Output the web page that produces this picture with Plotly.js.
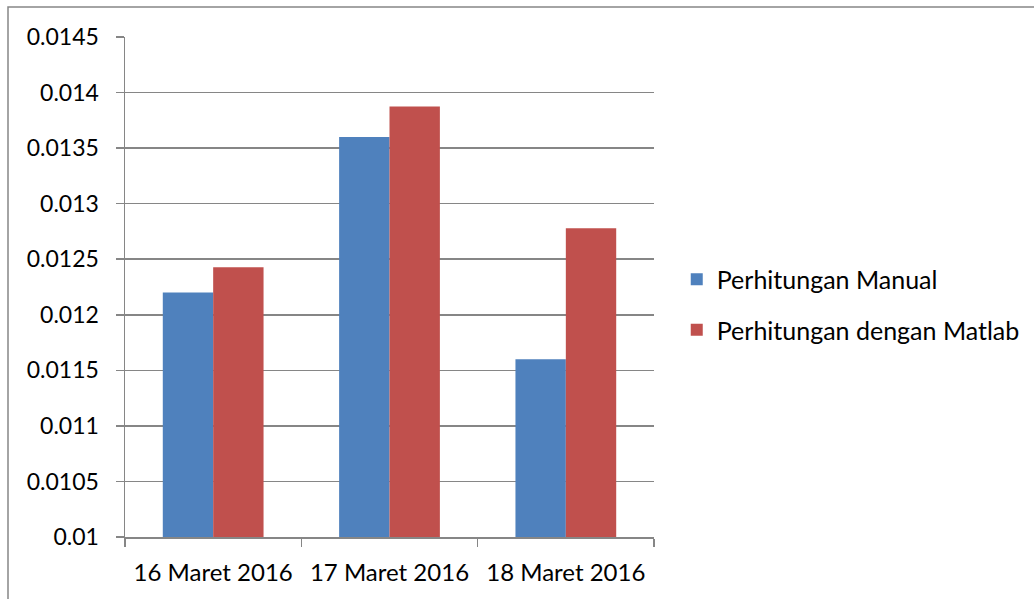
<!DOCTYPE html>
<html>
<head>
<meta charset="utf-8">
<script src="https://cdn.plot.ly/plotly-3.0.1.min.js"></script>
<style>html,body{margin:0;padding:0;background:#fff}#chart{width:1034px;height:599px}</style>
</head>
<body>
<div id="chart"></div>
<script>
const categories = ["16 Maret 2016", "17 Maret 2016", "18 Maret 2016"];
const manual = [0.0122, 0.0136, 0.0116];
const matlab = [0.012428, 0.013875, 0.012779];
const seriesNames = ["Perhitungan Manual", "Perhitungan dengan Matlab"];
const yTicks = [0.01, 0.0105, 0.011, 0.0115, 0.012, 0.0125, 0.013, 0.0135, 0.014, 0.0145];
const yTickText = ["0.01", "0.0105", "0.011", "0.0115", "0.012", "0.0125", "0.013", "0.0135", "0.014", "0.0145"];

const font = "Lato, 'Open Sans', sans-serif";
const data = [
  {type: "bar", x: categories, y: manual, name: seriesNames[0], legendgroup: "a",
   marker: {color: "#4F81BD"}},
  {type: "bar", x: categories, y: matlab, name: seriesNames[1], legendgroup: "b",
   marker: {color: "#C0504D"}}
];
const layout = {
  width: 1034, height: 599,
  margin: {l: 125, r: 380, t: 37, b: 62, autoexpand: false},
  paper_bgcolor: "#fff", plot_bgcolor: "#fff",
  font: {family: font, size: 23, color: "#000"},
  barmode: "group", bargap: 0.4286, bargroupgap: 0,
  xaxis: {showline: true, linecolor: "#868686", linewidth: 1.5,
          ticks: "outside", ticklen: 8, tickcolor: "#868686", tickwidth: 1.5,
          tickson: "boundaries", showgrid: false, zeroline: false,
          ticklabelstandoff: 14, tickfont: {family: font, size: 24}},
  yaxis: {range: [0.01, 0.0145], tickvals: yTicks, ticktext: yTickText,
          showline: true, linecolor: "#868686", linewidth: 1.5,
          ticks: "outside", ticklen: 8, tickcolor: "#868686", tickwidth: 1.5,
          showgrid: true, gridcolor: "#868686", gridwidth: 1.5, zeroline: false,
          ticklabelstandoff: 12, tickfont: {family: font, size: 23}},
  showlegend: true,
  legend: {x: 1.043, xanchor: "left", y: 0.465, yanchor: "middle",
           traceorder: "grouped", tracegroupgap: 15,
           font: {family: font, size: 25}, bgcolor: "rgba(0,0,0,0)"},
  shapes: [{type: "rect", xref: "paper", yref: "paper",
            x0: (8 - 125) / 529, x1: (1045 - 125) / 529,
            y0: (537 - 610) / 500, y1: (537 - 7) / 500,
            line: {color: "#868686", width: 1.5}, fillcolor: "rgba(0,0,0,0)", layer: "below"}]
};
Plotly.newPlot("chart", data, layout, {displayModeBar: false, staticPlot: true});
</script>
</body>
</html>
